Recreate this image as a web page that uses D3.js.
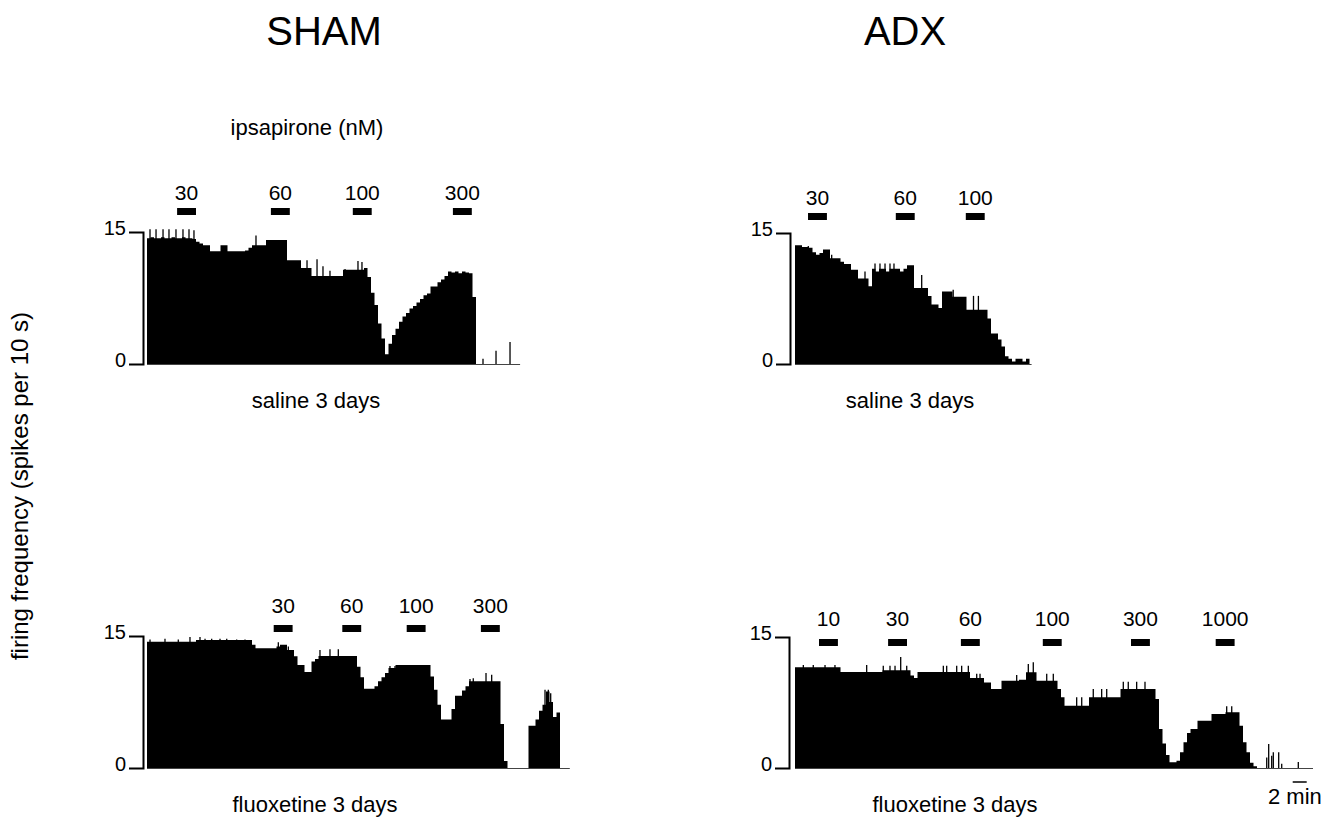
<!DOCTYPE html>
<html>
<head>
<meta charset="utf-8">
<script src="https://cdn.jsdelivr.net/npm/d3@7"></script>
<style>
  body { margin: 0; background: #fff; }
  svg { display: block; font-family: "Liberation Sans", Arial, Helvetica, sans-serif; }
</style>
</head>
<body>
<svg id="chart" width="1325" height="820"></svg>
<script>
// firing rate histograms, one value per 30 s bin (spikes per 10 s)
const BIN = 0.5;      // minutes per bin
const DOSE_DUR = 2.7; // minutes each ipsapirone application lasts

const shamSaline = [
  14.3,14.4,14.3,14.3,14.4,14.3,14.3,14.4,14.3,14.3,14.4,14.3,14.3,14.2,
  13.9,13.7,13.5,13.5,12.8,12.8,12.8,13.5,13.5,12.8,12.8,12.8,12.8,12.8,
  12.9,13.2,13.5,13.5,13.5,13.5,14.1,14.1,14.1,14.1,14.1,14.1,
  11.8,11.8,11.8,11.8,10.9,10.9,10.9,
  10.0,10.0,10.0,10.0,10.0,10.0,10.0,10.0,10.0,
  10.7,10.7,10.7,10.7,10.7,10.7,
  10.9,9.9,8.1,6.7,4.6,2.9,1.1,2.3,3.3,4.0,4.8,5.4,5.8,6.3,6.6,7.0,
  7.4,7.8,8.0,8.8,8.8,9.3,9.6,10.0,10.5,10.4,10.5,10.3,10.5,10.4,10.3,7.6
];
const adxSaline = [
  13.6,13.6,13.4,13.4,13.3,12.8,12.5,12.7,13.1,13.1,
  12.1,12.1,12.1,11.7,11.45,11.45,10.8,10.8,9.8,9.8,9.8,8.9,
  10.9,10.6,10.9,10.9,10.6,10.9,10.9,10.9,10.6,10.9,
  11.3,11.3,8.7,8.7,8.7,8.7,7.8,6.8,6.8,6.4,8.3,8.3,8.3,
  7.7,7.7,7.7,7.7,6.2,6.2,6.2,6.2,6.2,6.2,5.2,3.5,3.5,2.8,2.0,
  0.9,0.6,0.3,0.6,0.6,0.3,0.6
];
const shamFluox = [
  14.35,14.35,14.35,14.35,14.35,14.35,14.35,14.35,14.35,14.35,14.35,14.35,14.35,14.35,
  14.55,14.55,14.55,14.55,14.55,14.55,14.55,14.55,14.55,14.55,14.55,14.55,14.55,14.55,14.55,14.55,
  14.0,13.6,13.6,13.6,13.6,13.6,13.6,13.8,14.0,14.0,13.4,13.4,12.7,11.7,11.7,10.9,10.9,12.1,12.4,
  12.74,12.74,12.74,12.74,12.74,12.74,12.74,12.74,12.74,12.74,12.74,
  11.5,10.3,9.0,9.0,9.0,9.3,9.85,10.3,10.8,11.35,11.35,
  11.7,11.7,11.7,11.7,11.7,11.7,11.7,11.7,11.7,11.7,
  10.4,8.9,7.2,5.5,5.5,5.5,6.7,8.2,8.2,8.8,9.3,
  9.85,9.85,9.85,9.85,9.85,9.85,9.85,9.85,9.85,
  5.0,0.8,0,0,0,0,0,0,4.8,4.8,5.5,6.5,7.2,8.7,7.5,5.8,6.3
];
const adxFluox = [
  11.53,11.53,11.53,11.53,11.53,11.53,11.53,11.53,11.53,11.53,11.53,11.53,11.53,
  11.0,11.0,11.0,11.0,11.0,11.0,11.0,11.0,11.0,11.0,11.0,11.0,
  11.2,11.2,11.2,11.2,11.2,11.2,11.2,11.2,10.6,10.3,
  11.0,11.0,11.0,11.0,11.0,11.0,11.0,11.0,11.0,11.0,11.0,11.0,11.0,11.0,11.0,
  10.3,10.3,10.3,10.3,9.8,9.8,9.05,9.05,9.05,
  10.0,10.0,10.0,10.0,10.0,10.1,10.1,10.96,10.96,10.96,
  10.0,10.0,10.0,10.0,10.0,10.0,9.05,8.1,
  7.14,7.14,7.14,7.14,7.14,7.14,7.14,
  8.09,8.09,8.09,8.09,8.09,8.09,8.09,8.09,8.09,
  9.05,9.05,9.05,9.05,9.05,9.05,9.05,9.05,9.05,9.05,
  7.9,4.46,2.8,1.5,0.65,0.65,0.84,1.8,2.94,4.0,4.46,4.46,
  5.42,5.42,5.42,5.42,6.18,6.18,6.18,6.18,6.37,6.37,6.37,6.37,
  4.84,2.94,1.8,0.6,0.2
];

// single-bin spikes [minute, value]
const shamSalineSpikes = [[0.43,15.3],[1.29,15.3],[2.29,15.3],[3.14,15.3],[4.14,15.3],[5.14,15.3],[6.0,15.3],[6.71,15.2],
  [15.57,14.6],[22.86,11.8],[24.29,11.9],[25.14,11.1],[26.14,10.6],[28.29,10.8],[30.14,11.7],[30.71,11.6],
  [48.0,0.6],[49.86,1.5],[51.86,2.5]];
const adxSalineSpikes = [[1.9,13.5],[5.24,12.5],[10.0,10.6],[11.43,11.5],[12.14,11.5],[12.86,11.5],[13.57,11.5],
  [14.14,11.5],[18.1,10.2],[22.6,8.5],[25.5,7.8],[26.2,7.8]];
const shamFluoxSpikes = [[0.43,14.6],[2.57,14.7],[4.47,14.6],[6.14,14.9],[7.57,14.9],[8.29,14.7],[9.24,14.7],
  [10.43,14.7],[11.39,14.7],[12.81,14.6],[14.0,14.6],[18.76,14.3],[20.19,13.8],[24.71,13.4],[26.14,13.5],
  [27.33,13.5],[34.71,11.6],[35.43,11.6],[46.14,10.1],[46.61,10.2],[48.43,10.8],[49.24,10.6],
  [56.86,8.9],[57.33,8.9],[57.67,8.5]];
const adxFluoxSpikes = [[1.19,11.8],[2.61,11.8],[4.29,11.8],[5.71,11.8],[10.24,11.8],[12.61,11.7],[13.57,11.7],
  [14.29,11.7],[15.1,12.7],[15.96,11.7],[21.19,11.7],[21.67,11.7],[23.1,11.7],[23.81,11.7],[24.76,11.7],
  [25.96,10.8],[26.43,10.8],[31.67,10.65],[33.33,11.9],[34.04,12.1],[35.96,10.8],[36.9,10.8],
  [40.24,8.09],[40.96,8.09],[42.61,9.05],[43.81,9.05],[44.53,9.05],[46.9,9.88],[47.61,9.88],[48.81,9.88],
  [50.0,9.88],[61.67,7.06],[62.39,7.06],[67.39,1.2],[67.67,2.75],[68.1,1.4],[68.33,1.8],[69.1,1.8],
  [69.53,0.5],[71.9,0.7]];

// ipsapirone doses (nM) and start minute of each application
const shamSalineDoses = ['30','60','100','300'];
const shamSalineStarts = [4.3,17.7,29.4,43.7];
const adxSalineDoses = ['30','60','100'];
const adxSalineStarts = [1.86,14.4,24.4];
const shamFluoxDoses = ['30','60','100','300'];
const shamFluoxStarts = [18.1,27.9,37.1,47.7];
const adxFluoxDoses = ['10','30','60','100','300','1000'];
const adxFluoxStarts = [3.43,13.3,23.7,35.4,48.0,60.1];

const yTicks = [0, 15];
const PX_PER_MIN = 7;
const FONT = '"Liberation Sans", Arial, Helvetica, sans-serif';

const panels = [
  { bins: shamSaline, spikes: shamSalineSpikes, doses: shamSalineDoses, starts: shamSalineStarts,
    axisX: 143, x0: 147, y0: 364, y15: 232, barY: 208, labY: 200, tEnd: 53.3,
    cond: 'saline 3 days', condX: 316, condY: 408 },
  { bins: adxSaline, spikes: adxSalineSpikes, doses: adxSalineDoses, starts: adxSalineStarts,
    axisX: 790, x0: 795, y0: 364, y15: 233, barY: 213, labY: 205, tEnd: 33.8,
    cond: 'saline 3 days', condX: 910, condY: 408 },
  { bins: shamFluox, spikes: shamFluoxSpikes, doses: shamFluoxDoses, starts: shamFluoxStarts,
    axisX: 143, x0: 147, y0: 768, y15: 636, barY: 625, labY: 613, tEnd: 60.4,
    cond: 'fluoxetine 3 days', condX: 315, condY: 812 },
  { bins: adxFluox, spikes: adxFluoxSpikes, doses: adxFluoxDoses, starts: adxFluoxStarts,
    axisX: 789, x0: 795, y0: 768, y15: 637, barY: 639, labY: 626, tEnd: 74,
    cond: 'fluoxetine 3 days', condX: 955, condY: 812 }
];

const svg = d3.select('#chart');

function drawPanel(p) {
  const g = svg.append('g');
  const x = d3.scaleLinear().domain([0, p.tEnd]).range([p.x0, p.x0 + p.tEnd * PX_PER_MIN]);
  const y = d3.scaleLinear().domain([0, 15]).range([p.y0, p.y15]);

  // baseline
  g.append('line')
    .attr('x1', x(0)).attr('x2', x(p.tEnd))
    .attr('y1', y(0)+0.5).attr('y2', y(0)+0.5)
    .attr('stroke', '#444').attr('stroke-width', 1);

  const pts = p.bins.map((v, i) => [i*BIN, v]).concat([[p.bins.length*BIN, 0]]);
  const area = d3.area().curve(d3.curveStepAfter)
    .x(d => x(d[0])).y0(y(0)).y1(d => y(d[1]));
  g.append('path').datum(pts).attr('d', area).attr('fill', '#000');

  g.selectAll('line.spike').data(p.spikes).join('line')
    .attr('class', 'spike')
    .attr('x1', d => x(d[0])).attr('x2', d => x(d[0]))
    .attr('y1', y(0)).attr('y2', d => y(d[1]))
    .attr('stroke', '#000').attr('stroke-width', 1.3);

  // drug application bars + dose labels
  g.selectAll('rect.dose').data(p.starts).join('rect')
    .attr('class', 'dose')
    .attr('x', d => x(d)).attr('width', d => x(d+DOSE_DUR) - x(d))
    .attr('y', p.barY).attr('height', 7)
    .attr('fill', '#000');
  g.selectAll('text.dose').data(p.starts).join('text')
    .attr('class', 'dose')
    .attr('x', d => x(d + DOSE_DUR/2)).attr('y', p.labY)
    .attr('text-anchor', 'middle').attr('font-size', 21)
    .text((d, i) => p.doses[i]);

  // bracket axis
  g.append('g')
    .attr('transform', `translate(${p.axisX},0)`)
    .call(d3.axisLeft(y).tickValues(yTicks).tickSizeInner(0).tickSizeOuter(14).tickPadding(17))
    .attr('font-size', 20).attr('font-family', FONT)
    .call(a => {
      a.select('.domain').attr('stroke', '#000').attr('stroke-width', 2);
      a.selectAll('.tick text').attr('fill', '#000').attr('dy', '0.1em');
    });

  g.append('text')
    .attr('x', p.condX).attr('y', p.condY)
    .attr('text-anchor', 'middle').attr('font-size', 22)
    .text(p.cond);

  return x;
}

const xs = panels.map(drawPanel);

svg.append('text').attr('x', 324).attr('y', 45).attr('text-anchor', 'middle')
  .attr('font-size', 40).text('SHAM');
svg.append('text').attr('x', 905).attr('y', 45).attr('text-anchor', 'middle')
  .attr('font-size', 40).text('ADX');
svg.append('text').attr('x', 307).attr('y', 135).attr('text-anchor', 'middle')
  .attr('font-size', 22).text('ipsapirone (nM)');

svg.append('text')
  .attr('transform', 'translate(28,486) rotate(-90)')
  .attr('text-anchor', 'middle').attr('font-size', 24)
  .text('firing frequency (spikes per 10 s)');

// 2 min scale bar
const x4 = xs[3];
svg.append('line')
  .attr('x1', x4(71.1)).attr('x2', x4(73.1))
  .attr('y1', 782).attr('y2', 782)
  .attr('stroke', '#000').attr('stroke-width', 1.5);
svg.append('text').attr('x', 1268).attr('y', 804).attr('font-size', 22).text('2 min');
</script>
</body>
</html>
